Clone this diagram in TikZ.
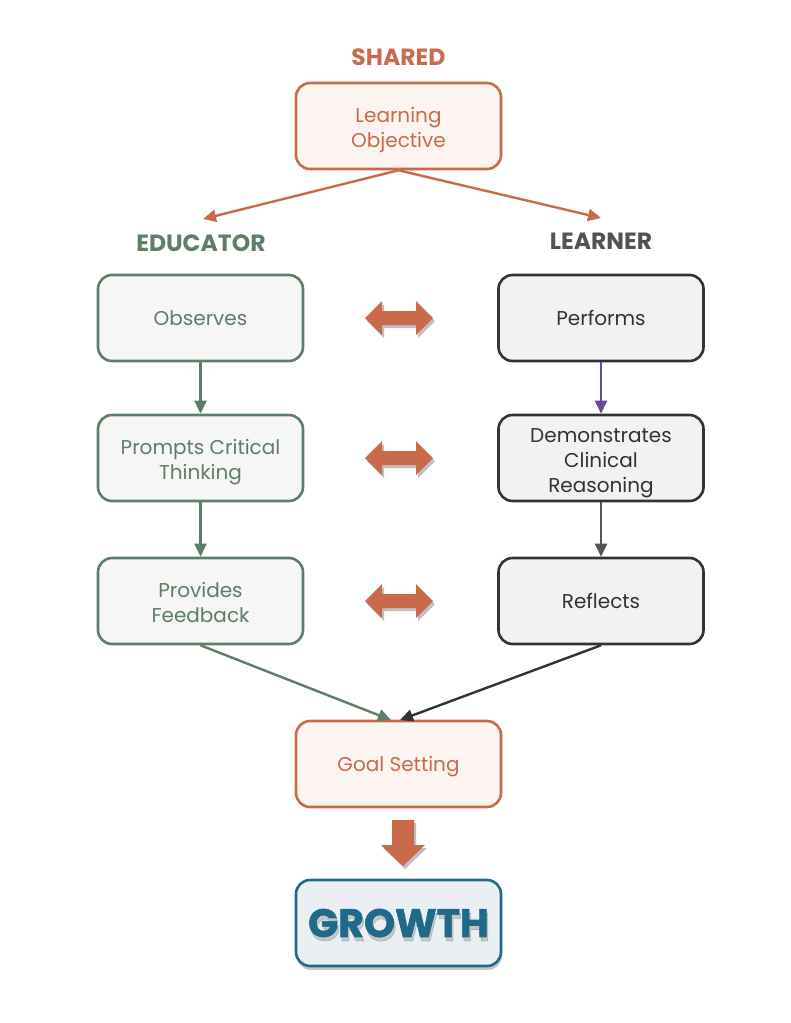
\documentclass[tikz,border=0pt]{standalone}
\usepackage{fontspec}
\setmainfont{Poppins}
\usetikzlibrary{arrows.meta,shadows,calc}
\definecolor{cOr}{HTML}{C96A4B}
\definecolor{cOrFill}{HTML}{FBF4F1}
\definecolor{cGr}{HTML}{5F7E67}
\definecolor{cGrFill}{HTML}{F6F6F6}
\definecolor{cDk}{HTML}{333333}
\definecolor{cDkFill}{HTML}{F2F2F2}
\definecolor{cPu}{HTML}{6B4A9B}
\definecolor{cGy}{HTML}{555555}
\definecolor{cTl}{HTML}{1E6A88}
\definecolor{cTlFill}{HTML}{E9EFF2}
\tikzset{
  box/.style={rounded corners=14pt, minimum width=205pt, minimum height=86pt,
    line width=2.6pt, align=center, inner sep=0pt,
    font=\fontsize{20}{25}\selectfont},
  twolines/.style={text height=48pt, text depth=5pt},
  threelines/.style={text height=73pt, text depth=5pt},
  oneline/.style={text height=15pt, text depth=0.5pt},
  orbox/.style={box, draw=cOr, fill=cOrFill, text=cOr},
  edbox/.style={box, draw=cGr, fill=cGrFill, text=cGr},
  lebox/.style={box, draw=cDk, fill=cDkFill, text=cDk},
  hdr/.style={font=\fontsize{23.5}{28}\selectfont\bfseries},
  conn/.style={line width=2.4pt, -{Triangle[length=13pt,width=12pt]}},
  blockarrow/.style={fill=cOr, draw=none,
    drop shadow={shadow xshift=2pt, shadow yshift=-3pt, opacity=0.25, fill=black}},
  growthfont/.style={font=\fontsize{39.5}{44}\selectfont\bfseries\addfontfeatures{FakeBold=1.6}},
}
\begin{document}
\begin{tikzpicture}[x=1pt,y=-1pt]
\path[use as bounding box, fill=white] (0,0) rectangle (791,1023);

% headers
\node[hdr, text=cOr] (shared) at (398.5,57) {SHARED};
\node[hdr, text=cGr] (edu) at (201,243) {EDUCATOR};
\node[hdr, text=cDk!85!white] (lea) at (601,241) {LEARNER};

% boxes
\node[orbox, twolines] (lo) at (398.5,126) {Learning\\Objective};
\node[edbox] (obs) at (200.5,318) {Observes};
\node[edbox, twolines] (pct) at (200.5,458) {Prompts Critical\\Thinking};
\node[edbox, twolines] (pfb) at (200.5,601) {Provides\\Feedback};
\node[lebox] (per) at (601,318) {Performs};
\node[lebox, threelines] (dcr) at (601,458) {Demonstrates\\Clinical\\Reasoning};
\node[lebox] (ref) at (601,601) {Reflects};
\node[orbox, oneline] (gs) at (398.5,764) {Goal Setting};
\node[box, draw=cTl, fill=cTlFill,
  drop shadow={shadow xshift=1pt, shadow yshift=-4pt, opacity=0.22, fill=black}] (gr) at (398.5,923) {};
\node[growthfont, text=black, opacity=0.16] (grsh) at (400,927) {GROWTH};
\node[growthfont, text=cTl] (grt) at (398.5,923) {GROWTH};

% connectors
\coordinate (eduTip) at (203,219);
\coordinate (leaTip) at (601,218);
\draw[conn, cOr] (lo.south) -- (eduTip);
\draw[conn, cOr] (lo.south) -- (leaTip);
\draw[conn, cGr] (obs.south) -- (pct.north);
\draw[conn, cGr] (pct.south) -- (pfb.north);
\draw[conn, cPu] (per.south) -- (dcr.north);
\draw[conn, cGy] (dcr.south) -- (ref.north);
\coordinate (gsL) at (391,720);
\coordinate (gsR) at (400,720);
\draw[conn, cGr] (pfb.south) -- (gsL);
\draw[conn, cDk] (ref.south) -- (gsR);

% double block arrows
\foreach \yy in {318,458,601}{
  \fill[blockarrow] (365,\yy) -- (382,\yy-17) -- (382,\yy-7) -- (416,\yy-7) -- (416,\yy-17)
    -- (433,\yy) -- (416,\yy+17) -- (416,\yy+7) -- (382,\yy+7) -- (382,\yy+17) -- cycle;
}
% down block arrow
\fill[blockarrow] (392,820) -- (414,820) -- (414,845) -- (425,845) -- (403,866)
  -- (381,845) -- (392,845) -- cycle;
\end{tikzpicture}
\end{document}
